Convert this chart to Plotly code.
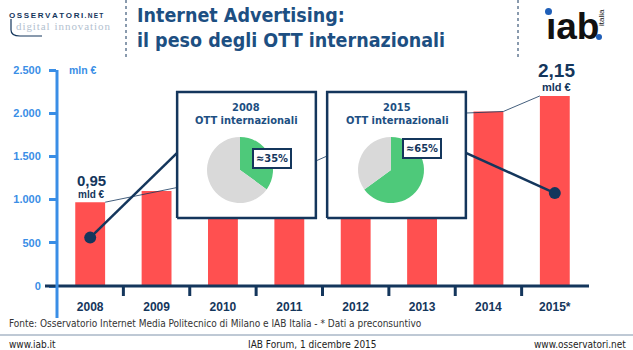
import plotly.graph_objects as go

# ---------------- data ----------------
years = ["2008", "2009", "2010", "2011", "2012", "2013", "2014", "2015*"]
values = [970, 1100, 1250, 1400, 1500, 1650, 2020, 2200]
y_ticks = [0, 500, 1000, 1500, 2000, 2500]
y_tick_labels = ["0", "500", "1.000", "1.500", "2.000", "2.500"]
pie_labels = ["OTT internazionali", "Altri"]
pie_2008 = [35, 65]
pie_2015 = [65, 35]
dot_values = [560, 1075]          # dots inside the 2008 and 2015 bars
label_2008 = ("0,95", "mld €")
label_2015 = ("2,15", "mld €")

# ---------------- styling ----------------
W, H = 633, 350
ML, MR, MT, MB = 57, 45, 70, 64
PW, PH = W - ML - MR, H - MT - MB
RED = "#ff5050"
NAVY = "#14365c"
TITLE = "#1d4f82"
BLUE = "#3a8ee6"
GREEN = "#4ec97a"
GREY = "#d9d9d9"
NARROW = "DejaVu Sans Condensed, Liberation Sans Narrow, Roboto, sans-serif"
ARIAL = "Liberation Sans, Arial, sans-serif"


def px(x):
    return (x - ML) / PW


def py(y):
    return (H - MB - y) / PH


x_idx = list(range(len(years)))
fig = go.Figure()

fig.add_trace(go.Bar(x=x_idx, y=values, width=0.45, marker=dict(color=RED, line_width=0),
                     hoverinfo="skip", showlegend=False))

# thin trend connector along the bar tops
fig.add_trace(go.Scatter(x=[0.225, 1.31], y=[values[0], 1140], mode="lines",
                         line=dict(color=NAVY, width=0.8), hoverinfo="skip", showlegend=False))
fig.add_trace(go.Scatter(x=[3.40, 3.57], y=[1447, 1505], mode="lines",
                         line=dict(color=NAVY, width=0.8), hoverinfo="skip", showlegend=False))
fig.add_trace(go.Scatter(x=[5.66, 6.225, 6.775], y=[2002, values[6], values[7]], mode="lines",
                         line=dict(color=NAVY, width=0.8), hoverinfo="skip", showlegend=False))

# thick connectors from dots to boxes
fig.add_trace(go.Scatter(x=[0, 1.31], y=[dot_values[0], 1540], mode="lines",
                         line=dict(color=NAVY, width=2.5), hoverinfo="skip", showlegend=False))
fig.add_trace(go.Scatter(x=[7, 5.66], y=[dot_values[1], 1540], mode="lines",
                         line=dict(color=NAVY, width=2.5), hoverinfo="skip", showlegend=False))
fig.add_trace(go.Scatter(x=[0, 7], y=dot_values, mode="markers",
                         marker=dict(color=NAVY, size=12), hoverinfo="skip", showlegend=False))

# inset boxes (white fill, navy border)
for x0, x1 in [(1.31, 3.40), (3.57, 5.66)]:
    fig.add_trace(go.Scatter(x=[x0, x1, x1, x0, x0], y=[787, 787, 2245, 2245, 787],
                             mode="lines", fill="toself", fillcolor="white",
                             line=dict(color=NAVY, width=2.5), hoverinfo="skip",
                             showlegend=False))

# pies
r = 33
for cx, vals in [(240, pie_2008), (391, pie_2015)]:
    fig.add_trace(go.Pie(labels=pie_labels, values=vals, sort=False, direction="clockwise",
                         rotation=0, marker=dict(colors=[GREEN, GREY], line=dict(width=0)),
                         textinfo="none", hoverinfo="skip", showlegend=False,
                         domain=dict(x=[px(cx - r), px(cx + r)], y=[py(170 + r), py(170 - r)])))

shapes = []
# x axis line + boundary ticks
shapes.append(dict(type="line", xref="paper", yref="paper", x0=px(45), x1=px(589), y0=0, y1=0,
                   line=dict(color=NAVY, width=3)))
for i in range(len(years) - 1):
    shapes.append(dict(type="line", xref="x", yref="paper", x0=i + 0.5, x1=i + 0.5,
                       y0=0, y1=py(296), line=dict(color=NAVY, width=3)))
# y axis line extending below
shapes.append(dict(type="line", xref="paper", yref="paper", x0=0, x1=0, y0=1, y1=py(318),
                   line=dict(color=BLUE, width=3)))
# header dashed separators
for xx in [126, 518]:
    shapes.append(dict(type="line", xref="paper", yref="paper", x0=px(xx), x1=px(xx),
                       y0=py(0), y1=py(60), line=dict(color=NAVY, width=1, dash="dot")))
# footer separator
shapes.append(dict(type="line", xref="paper", yref="paper", x0=px(0), x1=px(633),
                   y0=py(335), y1=py(335), line=dict(color="#7f93ab", width=1)))
# logo decorations
shapes.append(dict(type="circle", xref="paper", yref="paper", x0=px(545), x1=px(552),
                   y0=py(15), y1=py(8), fillcolor="#1f5fb8", line_width=0))
shapes.append(dict(type="circle", xref="paper", yref="paper", x0=px(596), x1=px(602),
                   y0=py(40), y1=py(34), fillcolor="#1f5fb8", line_width=0))
shapes.append(dict(type="path", xref="paper", yref="paper",
                   path=f"M {px(11)},{py(19)} L {px(11)},{py(30)} Q {px(11)},{py(36)} {px(20)},{py(36)} L {px(42)},{py(36)}",
                   line=dict(color=NAVY, width=1.2)))

ann = []


def text(x, y, t, size, color, family=NARROW, xanchor="center", bold=False, **kw):
    ann.append(dict(x=px(x), y=py(y), xref="paper", yref="paper", text=(f"<b>{t}</b>" if bold else t),
                    showarrow=False, xanchor=xanchor, yanchor="middle",
                    font=dict(size=size, color=color, family=family), **kw))


# title
text(135, 15, "Internet Advertising:", 19.5, TITLE, xanchor="left", bold=True)
text(135, 41, "il peso degli OTT internazionali", 19.5, TITLE, xanchor="left", bold=True)
# left logo
logo = "\u2009".join("OSSERVATORI")
text(7, 15, logo + "<span style='font-size:6.5px'>\u2009.\u2009N\u2009E\u2009T</span>",
     8, NAVY, family=ARIAL, xanchor="left", bold=True)
text(14, 26, "d\u200ai\u200ag\u200ai\u200at\u200aa\u200al\u2009 i\u200an\u200an\u200ao\u200av\u200aa\u200at\u200ai\u200ao\u200an",
     11, "#b3c1cf", family="Liberation Serif, serif", xanchor="left")
# right logo
text(572, 26, "\u0131ab", 37, "#111111", family=ARIAL, bold=True)
ann.append(dict(x=px(601), y=py(18), xref="paper", yref="paper", text="italia", showarrow=False,
                textangle=-90, font=dict(size=8, color="#111111", family=ARIAL),
                xanchor="center", yanchor="middle"))
# unit
text(83, 70, "mln €", 10.5, BLUE, family=ARIAL, bold=True)
# value labels
text(91, 180, label_2008[0], 15, NAVY, family=ARIAL, bold=True)
text(91, 194, label_2008[1], 10, NAVY, family=ARIAL, bold=True)
text(556, 70, label_2015[0], 19, NAVY, family=ARIAL, bold=True)
text(556, 87, label_2015[1], 11, NAVY, family=ARIAL, bold=True)
# box titles
text(246, 107, "2008", 11, TITLE, bold=True)
text(246, 120, "OTT internazionali", 11, TITLE, bold=True)
text(397, 107, "2015", 11, TITLE, bold=True)
text(397, 120, "OTT internazionali", 11, TITLE, bold=True)
# percentage badges
for x, y, t in [(272, 158, "≈35%"), (422, 148, "≈65%")]:
    text(x, y, t, 11, NAVY, bold=True, bordercolor=NAVY, borderwidth=2, borderpad=2,
         bgcolor="white")
# footer
text(7, 323, "Fonte: Osservatorio Internet Media Politecnico di Milano e IAB Italia - * Dati a preconsuntivo",
     10, "#333333", xanchor="left")
text(7, 344, "www.iab.it", 10, "#222222", xanchor="left")
text(312, 344, "IAB Forum, 1 dicembre 2015", 10, "#222222")
text(628, 344, "www.osservatori.net", 10, "#222222", xanchor="right")

fig.update_layout(
    width=W, height=H, margin=dict(l=ML, r=MR, t=MT, b=MB, pad=0),
    paper_bgcolor="white", plot_bgcolor="white",
    xaxis=dict(range=[-0.5, 7.5], tickvals=x_idx, ticktext=years, showgrid=False, zeroline=False,
               showline=False, ticks="", ticklabelstandoff=12, fixedrange=True,
               tickfont=dict(size=12, color=NAVY, family=ARIAL, weight="bold")),
    yaxis=dict(range=[0, 2500], tickvals=y_ticks, ticktext=y_tick_labels, showgrid=False,
               zeroline=False, showline=False, ticks="outside", ticklen=7, tickwidth=3,
               tickcolor=BLUE, ticklabelstandoff=6, fixedrange=True,
               tickfont=dict(size=11, color=BLUE, family=ARIAL, weight="bold")),
    shapes=shapes, annotations=ann, bargap=0.55,
)

fig.write_html("out.html")
